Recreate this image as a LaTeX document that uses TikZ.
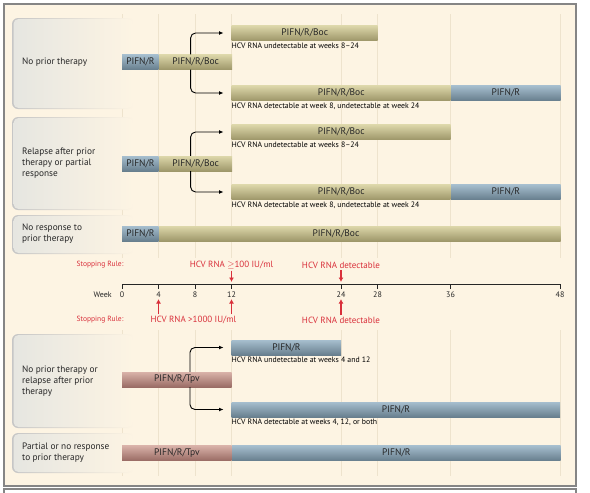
\documentclass[tikz,border=0pt]{standalone}
\usepackage{fontspec}
\setmainfont{PT Sans}
\usepackage{xcolor}
\usepackage{tikz}
\usetikzlibrary{arrows.meta,positioning,calc}
\definecolor{bgcream}{HTML}{FDF4E3}
\definecolor{gridline}{HTML}{EEE3CD}
\definecolor{frameGray}{HTML}{858585}
\definecolor{panelGray}{HTML}{E6E6E1}
\definecolor{bocTop}{HTML}{DDD7AA}
\definecolor{bocMid}{HTML}{CBC494}
\definecolor{bocBot}{HTML}{9E976A}
\definecolor{pegTop}{HTML}{A6BECE}
\definecolor{pegMid}{HTML}{8EA7B8}
\definecolor{pegBot}{HTML}{687F8E}
\definecolor{tpvTop}{HTML}{D9B2A9}
\definecolor{tpvMid}{HTML}{C39890}
\definecolor{tpvBot}{HTML}{9A6C65}
\definecolor{ruleRed}{HTML}{D9303B}

\begin{document}
\begin{tikzpicture}[x=1pt,y=-1pt,
  bar/.style={inner sep=0pt, minimum height=15pt, anchor=west,
              font=\fontsize{9.5}{10}\selectfont, text=black!85},
  boc/.style={bar, top color=bocTop, middle color=bocMid, bottom color=bocBot},
  peg/.style={bar, top color=pegTop, middle color=pegMid, bottom color=pegBot},
  tpv/.style={bar, top color=tpvTop, middle color=tpvMid, bottom color=tpvBot},
  lbl/.style={inner sep=0pt, font=\fontsize{9.5}{10}\selectfont, text=black!85},
  note/.style={anchor=north west, inner sep=0pt, font=\fontsize{7.8}{9}\selectfont},
  grp/.style={anchor=west, align=left, inner sep=0pt,
              font=\fontsize{9.3}{11}\selectfont, text=black!85},
  branch/.style={-{Latex[length=4.5pt,width=4pt]}, line width=0.9pt,
                 rounded corners=5pt, shorten >=8pt},
  rulesmall/.style={text=ruleRed, inner sep=0pt, font=\fontsize{7.5}{9}\selectfont},
  rulebig/.style={text=ruleRed, inner sep=0pt, font=\fontsize{9}{10}\selectfont},
  stop/.style={ruleRed, line width=1.2pt, shorten <=1.5pt, -{Latex[length=4.5pt,width=5pt]}},
  tick/.style={inner sep=1pt, font=\fontsize{8}{9}\selectfont, text=black!85}]
  \useasboundingbox (0,0) rectangle (590,493);
  % Frame and background
  \draw[frameGray, line width=1.2pt, fill=bgcream] (4,4) rectangle (576,486);
  \draw[frameGray, line width=1.2pt] (4,499) -- (4,489) -- (576,489) -- (576,499);
  % Week grid (Boc part and Tpv part)
  \foreach \w in {0,4,8,12,24,28,36,48} {
    \draw[gridline, line width=1pt] ({122+9.125*\w},14) -- ({122+9.125*\w},258);
    \draw[gridline, line width=1pt] ({122+9.125*\w},330) -- ({122+9.125*\w},476);
  }
  % Patient group panels
  \foreach \ya/\yb in {18/108,117/209,215/253,334/427,433/472} {
    \shade[rounded corners=6pt, left color=gray!45, right color=bgcream]
      (12,\ya) rectangle (134,{\yb+1});
    \shade[rounded corners=5pt, left color=panelGray, middle color=panelGray!70!bgcream,
           right color=bgcream] (13.5,{\ya+1}) rectangle (133,\yb);
  }
  \node[grp] (p1) at (22,62) {No prior therapy};
  \node[grp] (p2) at (22,163) {Relapse after prior\\therapy or partial\\response};
  \node[grp] (p3) at (22,234) {No response to\\prior therapy};
  \node[grp] (p4) at (22,381) {No prior therapy or\\relapse after prior\\therapy};
  \node[grp] (p5) at (22,453) {Partial or no response\\to prior therapy};

  % Boceprevir, no prior therapy
  \node[peg, minimum width=36.5] (r1peg) at (122,62) {PIFN/R};
  \node[boc, minimum width=73, right=0pt of r1peg] (r1boc) {PIFN/R/Boc};
  \node[boc, minimum width=146] (r1up) at (231.5,33) {PIFN/R/Boc};
  \node[note] (r1upn) at ([yshift=-2pt]r1up.south west) {HCV RNA undetectable at weeks 8--24};
  \node[boc, minimum width=219] (r1lo) at (231.5,93) {PIFN/R/Boc};
  \node[peg, minimum width=109.5, right=0pt of r1lo] (r1lopeg) {PIFN/R};
  \node[note] (r1lon) at ([yshift=-2pt]r1lo.south west) {HCV RNA detectable at week 8, undetectable at week 24};
  \draw[branch] ([xshift=-5pt]r1boc.north) |- (r1up.west);
  \draw[branch] ([xshift=-5pt]r1boc.south) |- (r1lo.west);

  % Boceprevir, relapse or partial response
  \node[peg, minimum width=36.5] (r2peg) at (122,163.5) {PIFN/R};
  \node[boc, minimum width=73, right=0pt of r2peg] (r2boc) {PIFN/R/Boc};
  \node[boc, minimum width=219] (r2up) at (231.5,132) {PIFN/R/Boc};
  \node[note] (r2upn) at ([yshift=-2pt]r2up.south west) {HCV RNA undetectable at weeks 8--24};
  \node[boc, minimum width=219] (r2lo) at (231.5,192) {PIFN/R/Boc};
  \node[peg, minimum width=109.5, right=0pt of r2lo] (r2lopeg) {PIFN/R};
  \node[note] (r2lon) at ([yshift=-2pt]r2lo.south west) {HCV RNA detectable at week 8, undetectable at week 24};
  \draw[branch] ([xshift=-5pt]r2boc.north) |- (r2up.west);
  \draw[branch] ([xshift=-5pt]r2boc.south) |- (r2lo.west);

  % Boceprevir, no response
  \node[peg, minimum width=36.5] (r3peg) at (122,233.5) {PIFN/R};
  \node[boc, minimum width=401.5, right=0pt of r3peg] (r3boc) {};
  \node[lbl] (r3lbl) at (336,233.5) {PIFN/R/Boc};

  % Week axis
  \draw[black!85, line width=1pt] (122,284) -- (560,284);
  \foreach \w in {0,4,8,12,24,28,36,48} {
    \coordinate (t\w) at ({122+9.125*\w},282);
    \draw[black!85, line width=1pt] ({122+9.125*\w},284) -- ++(0,5);
    \node[tick] (w\w) at ({122+9.125*\w},295) {\w};
  }
  \node[tick, anchor=east] (week) at (113,295) {Week};

  % Stopping rules
  \node[rulesmall] (sr1) at (100,265) {Stopping Rule:};
  \node[rulebig] (sr12) at (231.5,265) {HCV RNA $\geq$100 IU/ml};
  \node[rulebig] (sr24) at (341,265) {HCV RNA detectable};
  \draw[stop] (sr12.south -| t12) -- (t12);
  \draw[stop] (sr24.south -| t24) -- (t24);
  \node[rulesmall] (sr2) at (100,320) {Stopping Rule:};
  \node[rulebig] (sr4) at (193.5,320) {HCV RNA >1000 IU/ml};
  \node[rulebig] (sr24b) at (341,320) {HCV RNA detectable};
  \draw[stop] (sr4.north -| w4) -- (w4.south);
  \draw[stop] (sr4.north -| w12) -- (w12.south);
  \draw[stop] (sr24b.north -| w24) -- (w24.south);

  % Telaprevir, no prior therapy or relapse
  \node[tpv, minimum width=109.5] (r4tpv) at (122,379.5) {PIFN/R/Tpv};
  \node[peg, minimum width=109.5] (r4up) at (231.5,347.5) {PIFN/R};
  \node[note] (r4upn) at ([yshift=-2pt]r4up.south west) {HCV RNA undetectable at weeks 4 and 12};
  \node[peg, minimum width=328.5] (r4lo) at (231.5,409.5) {PIFN/R};
  \node[note] (r4lon) at ([yshift=-2pt]r4lo.south west) {HCV RNA detectable at weeks 4, 12, or both};
  \draw[branch] ([xshift=13pt]r4tpv.north) |- (r4up.west);
  \draw[branch] ([xshift=13pt]r4tpv.south) |- (r4lo.west);

  % Telaprevir, partial or no response
  \node[tpv, minimum width=109.5] (r5tpv) at (122,453) {PIFN/R/Tpv};
  \node[peg, minimum width=328.5, right=0pt of r5tpv] (r5peg) {PIFN/R};
\end{tikzpicture}
\end{document}
